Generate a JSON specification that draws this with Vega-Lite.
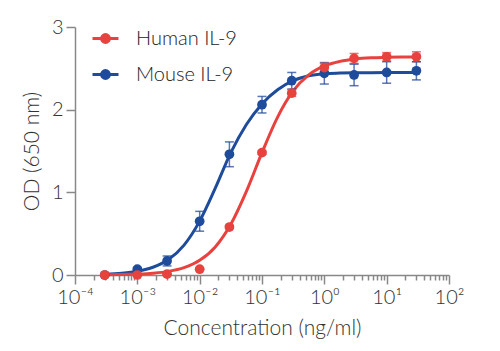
{
  "$schema": "https://vega.github.io/schema/vega-lite/v6.json",
  "autosize": "none",
  "width": 374,
  "height": 248,
  "padding": {"left": 75, "top": 27, "right": 51, "bottom": 76},
  "background": "white",
  "config": {
    "view": {"stroke": null},
    "font": "Lato",
    "axis": {
      "labelFont": "Lato", "titleFont": "Lato", "labelColor": "#333333", "titleColor": "#333333",
      "titleFontWeight": 300, "labelFontWeight": 300, "domainColor": "#888888", "tickColor": "#888888",
      "domainWidth": 1.5, "tickWidth": 1.5, "grid": false
    }
  },
  "datasets": {
    "pts": [
      {"series": "Mouse IL-9", "conc": 0.0003, "od": 0.00, "lo": 0.00, "hi": 0.00},
      {"series": "Mouse IL-9", "conc": 0.001, "od": 0.07, "lo": 0.05, "hi": 0.09},
      {"series": "Mouse IL-9", "conc": 0.003, "od": 0.17, "lo": 0.11, "hi": 0.23},
      {"series": "Mouse IL-9", "conc": 0.01, "od": 0.65, "lo": 0.53, "hi": 0.77},
      {"series": "Mouse IL-9", "conc": 0.03, "od": 1.46, "lo": 1.31, "hi": 1.61},
      {"series": "Mouse IL-9", "conc": 0.1, "od": 2.06, "lo": 1.96, "hi": 2.16},
      {"series": "Mouse IL-9", "conc": 0.3, "od": 2.35, "lo": 2.25, "hi": 2.45},
      {"series": "Mouse IL-9", "conc": 1, "od": 2.44, "lo": 2.31, "hi": 2.57},
      {"series": "Mouse IL-9", "conc": 3, "od": 2.42, "lo": 2.29, "hi": 2.55},
      {"series": "Mouse IL-9", "conc": 10, "od": 2.45, "lo": 2.32, "hi": 2.58},
      {"series": "Mouse IL-9", "conc": 30, "od": 2.47, "lo": 2.36, "hi": 2.58},
      {"series": "Human IL-9", "conc": 0.0003, "od": 0.00, "lo": 0.00, "hi": 0.00},
      {"series": "Human IL-9", "conc": 0.001, "od": 0.00, "lo": 0.00, "hi": 0.00},
      {"series": "Human IL-9", "conc": 0.003, "od": 0.01, "lo": 0.01, "hi": 0.01},
      {"series": "Human IL-9", "conc": 0.01, "od": 0.07, "lo": 0.07, "hi": 0.07},
      {"series": "Human IL-9", "conc": 0.03, "od": 0.58, "lo": 0.56, "hi": 0.60},
      {"series": "Human IL-9", "conc": 0.1, "od": 1.48, "lo": 1.46, "hi": 1.50},
      {"series": "Human IL-9", "conc": 0.3, "od": 2.20, "lo": 2.16, "hi": 2.24},
      {"series": "Human IL-9", "conc": 1, "od": 2.51, "lo": 2.46, "hi": 2.56},
      {"series": "Human IL-9", "conc": 3, "od": 2.62, "lo": 2.56, "hi": 2.68},
      {"series": "Human IL-9", "conc": 10, "od": 2.64, "lo": 2.59, "hi": 2.69},
      {"series": "Human IL-9", "conc": 30, "od": 2.64, "lo": 2.58, "hi": 2.70}
    ],
    "fit": [
      {"series": "Mouse IL-9", "conc": 0.0003, "od": 0.010},
      {"series": "Mouse IL-9", "conc": 0.000562, "od": 0.022},
      {"series": "Mouse IL-9", "conc": 0.001, "od": 0.046},
      {"series": "Mouse IL-9", "conc": 0.00178, "od": 0.094},
      {"series": "Mouse IL-9", "conc": 0.00316, "od": 0.188},
      {"series": "Mouse IL-9", "conc": 0.00562, "od": 0.362},
      {"series": "Mouse IL-9", "conc": 0.01, "od": 0.652},
      {"series": "Mouse IL-9", "conc": 0.0178, "od": 1.050},
      {"series": "Mouse IL-9", "conc": 0.0316, "od": 1.480},
      {"series": "Mouse IL-9", "conc": 0.0562, "od": 1.820},
      {"series": "Mouse IL-9", "conc": 0.1, "od": 2.070},
      {"series": "Mouse IL-9", "conc": 0.178, "od": 2.240},
      {"series": "Mouse IL-9", "conc": 0.316, "od": 2.350},
      {"series": "Mouse IL-9", "conc": 0.562, "od": 2.410},
      {"series": "Mouse IL-9", "conc": 1, "od": 2.435},
      {"series": "Mouse IL-9", "conc": 1.78, "od": 2.443},
      {"series": "Mouse IL-9", "conc": 3.16, "od": 2.447},
      {"series": "Mouse IL-9", "conc": 5.62, "od": 2.448},
      {"series": "Mouse IL-9", "conc": 10, "od": 2.449},
      {"series": "Mouse IL-9", "conc": 17.8, "od": 2.450},
      {"series": "Mouse IL-9", "conc": 30, "od": 2.450},
      {"series": "Human IL-9", "conc": 0.0003, "od": 0.002},
      {"series": "Human IL-9", "conc": 0.000562, "od": 0.005},
      {"series": "Human IL-9", "conc": 0.001, "od": 0.011},
      {"series": "Human IL-9", "conc": 0.00178, "od": 0.022},
      {"series": "Human IL-9", "conc": 0.00316, "od": 0.044},
      {"series": "Human IL-9", "conc": 0.00562, "od": 0.089},
      {"series": "Human IL-9", "conc": 0.01, "od": 0.177},
      {"series": "Human IL-9", "conc": 0.0178, "od": 0.339},
      {"series": "Human IL-9", "conc": 0.0316, "od": 0.613},
      {"series": "Human IL-9", "conc": 0.0562, "od": 1.011},
      {"series": "Human IL-9", "conc": 0.1, "od": 1.480},
      {"series": "Human IL-9", "conc": 0.178, "od": 1.910},
      {"series": "Human IL-9", "conc": 0.316, "od": 2.226},
      {"series": "Human IL-9", "conc": 0.562, "od": 2.421},
      {"series": "Human IL-9", "conc": 1, "od": 2.529},
      {"series": "Human IL-9", "conc": 1.78, "od": 2.584},
      {"series": "Human IL-9", "conc": 3.16, "od": 2.613},
      {"series": "Human IL-9", "conc": 5.62, "od": 2.627},
      {"series": "Human IL-9", "conc": 10, "od": 2.633},
      {"series": "Human IL-9", "conc": 17.8, "od": 2.637},
      {"series": "Human IL-9", "conc": 30, "od": 2.638}
    ]
  },
  "encoding": {
    "x": {
      "field": "conc", "type": "quantitative",
      "scale": {"type": "log", "domain": [0.0001, 100], "nice": false},
      "axis": {
        "title": "Concentration (ng/ml)", "titleFontSize": 21, "titlePadding": 10,
        "labelFontSize": 20, "labelPadding": 3, "labelFlush": false, "labelOverlap": false,
        "values": [0.0001,0.0002,0.0003,0.0004,0.0005,0.0006,0.0007,0.0008,0.0009,
                   0.001,0.002,0.003,0.004,0.005,0.006,0.007,0.008,0.009,
                   0.01,0.02,0.03,0.04,0.05,0.06,0.07,0.08,0.09,
                   0.1,0.2,0.3,0.4,0.5,0.6,0.7,0.8,0.9,
                   1,2,3,4,5,6,7,8,9,
                   10,20,30,40,50,60,70,80,90,100],
        "tickSize": {"condition": {"test": "indexof([0.0001,0.001,0.01,0.1,1,10,100], datum.value) >= 0", "value": 9}, "value": 5},
        "labelExpr": "datum.value == 0.0001 ? '10⁻⁴' : datum.value == 0.001 ? '10⁻³' : datum.value == 0.01 ? '10⁻²' : datum.value == 0.1 ? '10⁻¹' : datum.value == 1 ? '10⁰' : datum.value == 10 ? '10¹' : datum.value == 100 ? '10²' : ''"
      }
    },
    "y": {
      "field": "od", "type": "quantitative",
      "scale": {"domain": [0, 3], "nice": false},
      "axis": {
        "title": "OD (650 nm)", "titleFontSize": 21, "titlePadding": 9,
        "labelFontSize": 20, "labelPadding": 3, "tickSize": 9, "values": [0, 1, 2, 3]
      }
    },
    "color": {
      "field": "series", "type": "nominal",
      "scale": {"domain": ["Human IL-9", "Mouse IL-9"], "range": ["#e8423f", "#1f4b9b"]},
      "legend": {
        "title": null, "orient": "none", "legendX": 16, "legendY": -3,
        "labelFont": "Lato", "labelFontSize": 20, "labelFontWeight": 300, "labelColor": "#222222",
        "symbolType": "M-1,0H1M-0.3,0A0.3,0.3,0,1,0,0.3,0A0.3,0.3,0,1,0,-0.3,0Z",
        "symbolSize": 676, "symbolStrokeWidth": 3, "labelOffset": 16, "rowPadding": 11,
        "symbolOpacity": 1,
        "encode": {"symbols": {"update": {
          "fill": {"scale": "color", "field": "value"},
          "stroke": {"scale": "color", "field": "value"},
          "strokeWidth": {"value": 3}
        }}}
      }
    }
  },
  "layer": [
    {
      "data": {"name": "fit"},
      "mark": {"type": "line", "interpolate": "monotone", "strokeWidth": 3},
      "encoding": {"detail": {"field": "series"}}
    },
    {
      "data": {"name": "pts"},
      "mark": {"type": "errorbar", "ticks": {"size": 9, "thickness": 1.5}, "thickness": 1.5, "opacity": 0.75},
      "encoding": {
        "y": {"field": "lo", "type": "quantitative"},
        "y2": {"field": "hi"}
      }
    },
    {
      "data": {"name": "pts"},
      "mark": {"type": "circle", "size": 95, "opacity": 1}
    }
  ]
}
